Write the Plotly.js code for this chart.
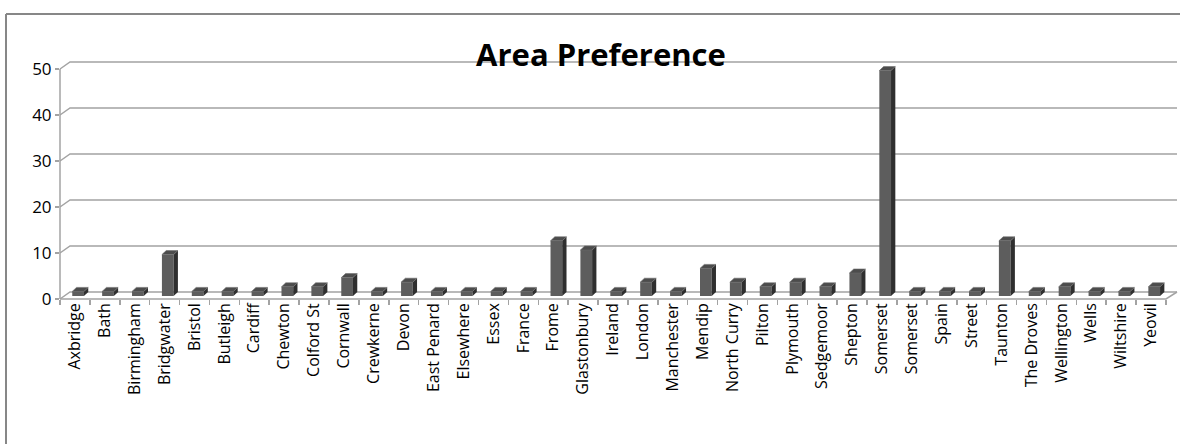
<!DOCTYPE html>
<html><head><meta charset="utf-8">
<script src="https://cdn.plot.ly/plotly-3.0.1.min.js"></script>
<style>html,body{margin:0;padding:0;background:#fff;} #chart{width:1180px;height:444px;}</style>
</head><body><div id="chart"></div>
<script>
const categories = ["Axbridge","Bath","Birmingham","Bridgwater","Bristol","Butleigh","Cardiff","Chewton","Colford St","Cornwall","Crewkerne","Devon","East Penard","Elsewhere","Essex","France","Frome","Glastonbury","Ireland","London","Manchester","Mendip","North Curry","Pilton","Plymouth","Sedgemoor","Shepton","Somerset","Somerset","Spain","Street","Taunton","The Droves","Wellington","Wells","Wiltshire","Yeovil"];
const counts = [1,1,1,9,1,1,1,2,2,4,1,3,1,1,1,1,12,10,1,3,1,6,3,2,3,2,5,49,1,1,1,12,1,2,1,1,2];
const yTicks = [0,10,20,30,40,50];
const chartTitle = "Area Preference";

const FW = 1180, FH = 444;
const M = {l:60, r:14, t:69, b:145};
const PW = FW - M.l - M.r, PH = FH - M.t - M.b;
const N = categories.length;
const xMin = -0.5, xMax = N - 0.5, yMax = 50;
const catPx = PW / N, unitPx = PH / yMax;
const baseVal = 3 / unitPx;
const GRID = '#a3a3a3';
function px(xd, dx){ return ((xd - xMin) / (xMax - xMin) * PW + dx) / PW; }
function py(yd, dy){ return (yd / yMax * PH + dy) / PH; }
function fx(pxAbs){ return (pxAbs - M.l) / PW; }
function fy(pyAbs){ return (FH - M.b - pyAbs) / PH; }

const xs = categories.map((_, i) => i);
const shapes = [];
yTicks.forEach(v => {
  shapes.push({type:'path', xref:'paper', yref:'paper', layer:'below',
    path:`M ${px(xMin,0)},${py(v,0)} L ${px(xMin,10)},${py(v,7)} L ${px(xMax,11)},${py(v,7)}`,
    line:{color:GRID, width:1.5}});
});
shapes.push({type:'path', xref:'paper', yref:'paper', layer:'below',
  path:`M ${px(xMin,0)},${py(0,0)} L ${px(xMax,0)},${py(0,0)} L ${px(xMax,11)},${py(0,7)}`,
  line:{color:GRID, width:1.5}});
shapes.push({type:'path', xref:'paper', yref:'paper', layer:'below',
  path:`M ${px(xMin,0)},${py(0,0)} L ${px(xMin,0)},${py(yMax,0)}`,
  line:{color:GRID, width:1.5}});
counts.forEach((v, i) => {
  const b = baseVal, t = baseVal + v;
  shapes.push({type:'path', xref:'paper', yref:'paper', layer:'above',
    path:`M ${px(i,9)},${py(b,0)} L ${px(i,13.3)},${py(b,4)} L ${px(i,13.3)},${py(t,4)} L ${px(i,9)},${py(t,0)} Z`,
    fillcolor:'#2f2f2f', line:{width:0}});
  shapes.push({type:'path', xref:'paper', yref:'paper', layer:'above',
    path:`M ${px(i,-2.7)},${py(t,0)} L ${px(i,9)},${py(t,0)} L ${px(i,13.3)},${py(t,4)} L ${px(i,1.6)},${py(t,4)} Z`,
    fillcolor:'#4c4c4c', line:{color:'#6a6a6a', width:0.6}});
});
shapes.push({type:'line', xref:'paper', yref:'paper', x0:fx(6), x1:fx(6), y0:fy(14), y1:fy(460), line:{color:'#878787', width:2}});
shapes.push({type:'line', xref:'paper', yref:'paper', x0:fx(6), x1:fx(1200), y0:fy(14), y1:fy(14), line:{color:'#878787', width:2}});

const trace = {
  type:'bar', x: xs, y: counts, base: baseVal,
  offset: -2.7 / catPx, width: 11.7 / catPx,
  marker:{color:'#5d5d5d', line:{width:0}},
  hoverinfo:'skip'
};

const layout = {
  width: FW, height: FH,
  margin: M,
  paper_bgcolor:'#fff', plot_bgcolor:'rgba(0,0,0,0)',
  showlegend:false,
  font:{family:'"Open Sans", sans-serif', color:'#000'},
  title:{text: chartTitle, font:{family:'"Open Sans", sans-serif', size:31, weight:'bold', color:'#000'},
    x: 601/FW, xanchor:'center', xref:'container', y: 1 - 55/FH, yanchor:'middle', yref:'container'},
  xaxis:{range:[xMin, xMax], tickmode:'array', tickvals: xs, ticktext: categories, tickangle:-90,
    tickfont:{size:16, color:'#000'}, showgrid:false, zeroline:false, showline:false, ticks:'',
    minor:{tickmode:'linear', tick0:-0.5, dtick:1, ticks:'outside', ticklen:5, tickwidth:1.5, tickcolor:GRID, showgrid:false},
    fixedrange:true},
  yaxis:{range:[0, yMax], tickmode:'array', tickvals: yTicks, ticks:'outside', ticklen:4, tickwidth:1.5, tickcolor:GRID,
    tickfont:{size:17, color:'#000'}, showgrid:false, zeroline:false, showline:false, fixedrange:true},
  shapes: shapes
};
Plotly.newPlot('chart', [trace], layout, {staticPlot:true, displayModeBar:false});
</script></body></html>
